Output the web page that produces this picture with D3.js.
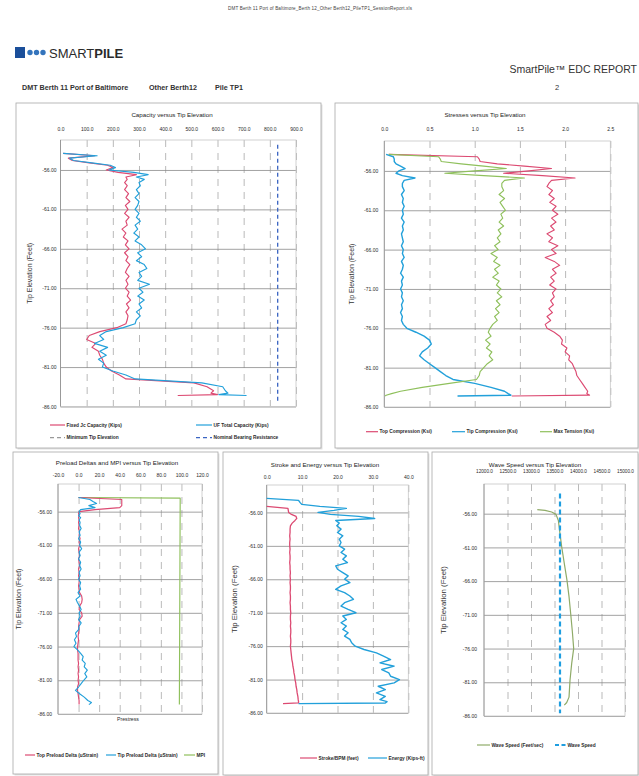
<!DOCTYPE html>
<html>
<head>
<meta charset="utf-8">
<script src="https://d3js.org/d3.v7.min.js"></script>
<style>
  body { margin: 0; background: #fff; }
  svg text { font-family: "Liberation Sans Narrow", "Liberation Sans", Arial, sans-serif; }
</style>
</head>
<body>
<svg id="page" width="639" height="776"></svg>
<script>
// ---- data (tip elevation in feet, shared by the dense traces) ----
const elev = [-53.9,-54.2,-54.5,-54.8,-55.1,-55.4,-55.7,-56.0,-56.3,-56.6,-56.9,-57.2,-57.6,
  -58.0,-58.5,-59.0,-59.5,-60.0,-60.5,-61.0,-61.5,-62.0,-62.5,
  -63.0,-63.5,-64.0,-64.5,-65.0,-65.5,-66.0,-66.5,-67.0,-67.5,
  -68.0,-68.5,-69.0,-69.5,-70.0,-70.5,-71.0,-71.5,-72.0,-72.5,
  -73.0,-73.5,-74.0,-74.5,-75.0,-75.5,-76.0,-76.5,-77.0,-77.5,
  -78.0,-78.5,-79.0,-79.5,-80.0,-80.5,-81.0,-81.5,-82.0,-82.5,
  -83.0,-83.5,-84.0,-84.3,-84.5,-84.6];

// capacity (kips)
const fixedCap = [10,130,30,45,110,180,200,175,220,290,250,255,245,
  255,245,260,250,265,248,258,245,262,250,
  255,235,250,240,258,248,262,245,258,250,
  265,255,248,262,250,258,248,262,255,268,
  252,262,250,258,255,250,215,150,110,100,
  135,120,145,150,160,165,175,195,225,250,
  510,560,585,575,600,448];
const totalCap = [10,140,35,50,120,190,210,185,280,335,290,320,300,
  305,290,300,285,300,295,285,300,290,305,
  285,295,280,300,285,310,325,295,310,290,
  320,330,300,310,295,340,300,315,295,320,
  300,310,290,305,290,285,240,175,150,165,
  130,180,150,175,145,165,160,200,250,285,
  540,620,630,640,605,711];
const nominalElev = [-52.8, -85.6];
const nominalCap = [830, 830];

// stresses (ksi)
const topComp = [0.05,1.03,1.05,1.06,1.25,1.55,1.85,1.60,1.32,1.75,2.11,1.85,1.82,
  1.80,1.86,1.82,1.88,1.83,1.90,1.86,1.92,1.85,1.90,
  1.84,1.88,1.80,1.86,1.82,1.92,1.85,1.90,1.78,1.88,
  1.94,1.86,1.90,1.84,1.88,1.83,1.90,1.86,1.88,1.84,
  1.87,1.82,1.86,1.80,1.84,1.78,1.80,1.88,1.94,1.97,
  1.96,2.02,2.00,2.05,2.04,2.08,2.10,2.12,2.13,2.16,
  2.19,2.22,2.25,2.24,2.27,1.41];
const tipComp = [0.02,0.10,0.11,0.11,0.13,0.18,0.23,0.16,0.13,0.20,0.34,0.22,0.20,
  0.20,0.22,0.19,0.21,0.20,0.22,0.20,0.21,0.19,0.22,
  0.20,0.21,0.19,0.20,0.21,0.19,0.21,0.20,0.22,0.19,
  0.21,0.20,0.18,0.21,0.19,0.20,0.18,0.20,0.19,0.21,
  0.19,0.20,0.18,0.20,0.19,0.21,0.25,0.35,0.44,0.50,
  0.52,0.48,0.42,0.39,0.44,0.50,0.56,0.62,0.68,0.76,
  1.00,1.18,1.33,1.37,1.40,0.81];
const maxTension = [0.05,0.60,0.62,0.63,0.85,1.10,1.35,1.00,0.67,1.10,1.55,1.33,1.30,
  1.30,1.32,1.27,1.33,1.28,1.31,1.34,1.29,1.31,1.27,
  1.32,1.26,1.29,1.25,1.28,1.22,1.26,1.18,1.25,1.21,
  1.28,1.22,1.26,1.20,1.27,1.24,1.29,1.25,1.30,1.24,
  1.28,1.23,1.27,1.22,1.25,1.20,1.17,1.15,1.18,1.12,
  1.17,1.13,1.19,1.16,1.20,1.14,1.10,1.06,1.05,1.02,
  0.72,0.42,0.18,0.08,0.02,0.01];

// preload deltas (ustrain) and MPI
const topPreload = [0,42,42,42,42,40,16,0.5,0,0.5,0,0.5,0,
  0.5,0,1,0.5,1.5,0.5,1,0,0.5,1,
  0,0.5,1,0,0.5,0,1,0.5,0,0.5,
  1,3,3.5,3,1,0.5,3,3.5,1,0.5,
  0,0.5,0,-0.5,0,-0.5,-1,-1,-0.5,-0.5,
  -0.5,0,-0.5,0,-0.5,0,-0.5,0,-1,-1,
  -0.5,0,0.5,0.5,0.5,0.5];
const tipPreload = [0,11,14,17.5,10,16,2,0.5,1.5,0,2,0.5,1.5,
  1,2.5,0.5,1.5,0,2,1,3,0.5,1.5,
  0,2,1,2.5,0.5,1.5,0,2,1,2,
  -0.5,1.5,-2.5,-1,1,2.5,0.5,1.5,0,2.5,
  0.5,0,-3,-2,-4,-2.5,-4.5,-1,2,4.5,
  3.5,6.5,5.5,8.5,6,8,5,2.5,0,-3,
  1,5.5,9,12.5,11,10];
const mpiElev = [-53.9, -54.0, -84.6];
const mpi = [0, 98.8, 98.0];

// stroke (feet) and energy (kips-ft)
const stroke = [null,null,null,null,0,6.0,6.1,6.2,7.0,8.3,8.5,8.0,7.2,
  6.7,6.6,6.6,6.5,6.6,6.5,6.5,6.6,6.5,6.6,
  6.6,6.5,6.6,6.6,6.7,6.6,6.7,6.6,6.7,6.7,
  6.6,6.7,6.7,6.6,6.7,6.7,6.8,6.7,6.7,6.8,
  6.7,6.8,6.8,6.7,6.8,6.8,6.7,6.8,6.9,7.0,
  7.1,7.3,7.4,7.6,7.7,7.9,8.0,8.2,8.3,8.5,
  8.6,8.8,8.9,9.0,9.0,4.6];
const energy = [0,9.0,9.4,9.9,15,22.5,19,14.5,18,26,30.5,19.5,20.5,
  19.8,21,20,21.5,20.5,21,20.5,22,21,22.5,
  21.5,22.8,19.5,20,21.5,23,22,23.5,21,19.5,
  22,23.5,24.5,22,21,23,25.2,21.5,22.5,21,
  22.5,21.5,23,22,23.5,24,25,27.5,31,33,
  35,32,36,32.5,34.5,35,37.5,36,31.5,33.5,
  31,33.5,32,34,33.5,9.0];

// wave speed (feet/sec)
const waveElev = [-55.4,-55.5,-55.75,-56.1,-57.0,-59.0,-60.9,-63.4,-65.9,-68.3,-70.8,-73.5,-76.0,-78.2,-80.7,-83.2,-84.0,-84.4];
const waveSpeed = [13134,13298,13440,13532,13582,13617,13653,13709,13766,13809,13844,13880,13908,13866,13830,13809,13760,13709];
const waveRefElev = [-53.0, -85.6];
const waveRef = [13617, 13617];

// tick values
const elevTicks = [-56, -61, -66, -71, -76, -81, -86];
const capTicks = [0, 100, 200, 300, 400, 500, 600, 700, 800, 900];
const stressTicks = [0, 0.5, 1, 1.5, 2, 2.5];
const preloadTicks = [-20, 0, 20, 40, 60, 80, 100, 120];
const strokeTicks = [0, 10, 20, 30, 40];
const waveTicks = [12000, 12500, 13000, 13500, 14000, 14500, 15000];

const RED = "#dc4a72", BLUE = "#22a0da", GREEN = "#8fc05c";
const svg = d3.select("#page");

// ---- page header ----
svg.append("text").attr("x", 320).attr("y", 10).attr("text-anchor", "middle")
  .attr("font-size", 4.6).attr("fill", "#444").attr("textLength", 184)
  .text("DMT Berth 11 Port of Baltimore_Berth 12_Other Berth12_PileTP1_SessionReport.xls");

svg.append("rect").attr("x", 15).attr("y", 47).attr("width", 10).attr("height", 11).attr("fill", "#1b4f9a");
[30, 36.5, 43].forEach(function(cx) {
  svg.append("circle").attr("cx", cx).attr("cy", 52.5).attr("r", 2.7).attr("fill", "#3474bc");
});
const logo = svg.append("text").attr("x", 49).attr("y", 58).attr("font-size", 13).attr("fill", "#2a2a2a")
  .style("font-family", "'Liberation Sans', Arial, sans-serif");
logo.append("tspan").text("SMART");
logo.append("tspan").attr("font-weight", "bold").text("PILE");

svg.append("text").attr("x", 637).attr("y", 73).attr("text-anchor", "end").attr("font-size", 10.5)
  .attr("fill", "#333").style("font-family", "'Liberation Sans', Arial, sans-serif")
  .text("SmartPile\u2122 EDC REPORT");

[["DMT Berth 11 Port of Baltimore", 22], ["Other Berth12", 149], ["Pile TP1", 215]].forEach(function(t) {
  svg.append("text").attr("x", t[1]).attr("y", 90).attr("font-size", 7.2).attr("font-weight", "bold")
    .attr("fill", "#333").style("font-family", "'Liberation Sans', Arial, sans-serif").text(t[0]);
});
svg.append("text").attr("x", 555).attr("y", 90).attr("font-size", 7.5).attr("fill", "#333").text("2");

// ---- one chart panel ----
function drawPanel(p) {
  const g = svg.append("g");
  const bw = p.box[2] - p.box[0], bh = p.box[3] - p.box[1];
  g.append("rect").attr("x", p.box[0] + 1.5).attr("y", p.box[1] + 1.5)
    .attr("width", bw).attr("height", bh).attr("fill", "#e2e2e2");
  g.append("rect").attr("x", p.box[0]).attr("y", p.box[1]).attr("width", bw).attr("height", bh)
    .attr("fill", "#fff").attr("stroke", "#a9a9a9").attr("stroke-width", 0.8);

  const x = d3.scaleLinear().domain(p.xDomain).range(p.xRange);
  const y = d3.scaleLinear().domain(p.yDomain).range(p.yRange);
  const w = p.xRange[1] - p.xRange[0], h = p.yRange[1] - p.yRange[0];

  g.append("text").attr("x", p.titleX).attr("y", p.titleY).attr("text-anchor", "middle")
    .attr("font-size", 6.2).attr("fill", "#222").text(p.title);

  // dashed vertical gridlines
  g.append("g").attr("transform", "translate(0," + p.yRange[0] + ")")
    .call(d3.axisTop(x).tickValues(p.xTicks.slice(1)).tickSize(-h).tickFormat(""))
    .call(a => a.select(".domain").remove())
    .call(a => a.selectAll(".tick line").attr("stroke", "#9c9c9c").attr("stroke-width", 0.7)
      .attr("stroke-dasharray", "7,6"));

  // horizontal gridlines and elevation labels
  g.append("g").attr("transform", "translate(" + p.xRange[0] + ",0)")
    .call(d3.axisLeft(y).tickValues(elevTicks).tickSize(-w).tickPadding(p.yPad)
      .tickFormat(d => d.toFixed(2)))
    .attr("font-size", 5).attr("color", "#2a2a2a")
    .call(a => a.select(".domain").remove())
    .call(a => a.selectAll(".tick line").attr("stroke", "#8a8a8a").attr("stroke-width", 0.8));

  // top value labels
  g.append("g").attr("transform", "translate(0," + p.yRange[0] + ")")
    .call(d3.axisTop(x).tickValues(p.xTicks).tickSize(0).tickPadding(p.xPad)
      .tickFormat(d => d.toFixed(1)))
    .attr("font-size", p.xFont || 5).attr("color", "#2a2a2a")
    .call(a => a.select(".domain").remove());

  g.append("rect").attr("x", p.xRange[0]).attr("y", p.yRange[0]).attr("width", w).attr("height", h)
    .attr("fill", "none").attr("stroke", "#c6c6c6").attr("stroke-width", 0.8);
  g.append("line").attr("x1", p.xRange[0]).attr("x2", p.xRange[0])
    .attr("y1", p.yRange[0]).attr("y2", p.yRange[1]).attr("stroke", "#8a8a8a").attr("stroke-width", 0.8);

  g.append("text").attr("transform", "translate(" + p.yTitleX + "," + (p.yRange[0] + h / 2) + ") rotate(-90)")
    .attr("text-anchor", "middle").attr("font-size", p.yTitleFont || 7).attr("fill", "#333")
    .style("font-family", "'Liberation Sans', Arial, sans-serif").text("Tip Elevation (Feet)");

  const line = d3.line().defined(d => d[1] != null).x(d => x(d[1])).y(d => y(d[0]));
  p.series.forEach(function(s) {
    g.append("path").datum(d3.zip(s.elev, s.values)).attr("d", line)
      .attr("fill", "none").attr("stroke", s.color).attr("stroke-width", s.width || 1.15)
      .attr("stroke-dasharray", s.dash || null).attr("stroke-linejoin", "round");
  });

  p.legend.forEach(function(l) {
    g.append("line").attr("x1", l.x).attr("x2", l.x + l.len).attr("y1", l.y).attr("y2", l.y)
      .attr("stroke", l.color).attr("stroke-width", l.width || 1.2).attr("stroke-dasharray", l.dash || null);
    g.append("text").attr("x", l.x + l.len + 1.5).attr("y", l.y + 1.7).attr("font-size", 4.8)
      .attr("font-weight", "bold").attr("fill", "#2a2a2a").text(l.text);
  });
  return g;
}

drawPanel({
  box: [16, 103, 321, 448], title: "Capacity versus Tip Elevation", titleX: 172, titleY: 117,
  xDomain: [0, 900], xRange: [60.5, 296], yDomain: [-52.2, -86], yRange: [140, 406.5],
  xTicks: capTicks, xPad: 9, yPad: 4, yTitleX: 32,
  series: [
    { elev: elev, values: fixedCap, color: RED },
    { elev: elev, values: totalCap, color: BLUE },
    { elev: nominalElev, values: nominalCap, color: "#3a64c2", dash: "4,3", width: 1.3 }
  ],
  legend: [
    { x: 50, y: 425, len: 15, text: "Fixed Jc Capacity (Kips)", color: RED },
    { x: 196, y: 425, len: 16, text: "UF Total Capacity (Kips)", color: BLUE },
    { x: 50, y: 437.7, len: 15, text: "Minimum Tip Elevation", color: "#999", dash: "4,3" },
    { x: 196, y: 437.7, len: 16, text: "Nominal Bearing Resistance", color: "#3a64c2", dash: "4,3" }
  ]
});

drawPanel({
  box: [335, 103, 638, 448], title: "Stresses versus Tip Elevation", titleX: 485, titleY: 117,
  xDomain: [0, 2.5], xRange: [384.3, 610.3], yDomain: [-52.2, -86], yRange: [141, 407],
  xTicks: stressTicks, xPad: 10, yPad: 6, yTitleX: 354,
  series: [
    { elev: elev, values: topComp, color: RED },
    { elev: elev, values: tipComp, color: BLUE, width: 1.4 },
    { elev: elev, values: maxTension, color: GREEN }
  ],
  legend: [
    { x: 366, y: 431.7, len: 12, text: "Top Compression (Ksi)", color: RED },
    { x: 452, y: 431.7, len: 13, text: "Tip Compression (Ksi)", color: BLUE },
    { x: 540, y: 431.7, len: 12, text: "Max Tension (Ksi)", color: GREEN }
  ]
});

const p3 = drawPanel({
  box: [13, 452, 218, 774], title: "Preload Deltas and MPI  versus Tip Elevation", titleX: 117, titleY: 465,
  xDomain: [-20, 120], xRange: [58, 202], yDomain: [-51.9, -86], yRange: [484, 714],
  xTicks: preloadTicks, xPad: 7, yPad: 6, yTitleX: 21,
  series: [
    { elev: mpiElev, values: mpi, color: GREEN },
    { elev: elev, values: topPreload, color: RED },
    { elev: elev, values: tipPreload, color: BLUE }
  ],
  legend: [
    { x: 25, y: 755, len: 10, text: "Top Preload Delta (uStrain)", color: RED },
    { x: 106, y: 755, len: 10, text: "Tip Preload Delta (uStrain)", color: BLUE },
    { x: 184, y: 755, len: 11, text: "MPI", color: GREEN }
  ]
});
p3.append("text").attr("x", 128).attr("y", 721).attr("text-anchor", "middle")
  .attr("font-size", 5.2).attr("fill", "#2a2a2a").text("Prestress");

drawPanel({
  box: [223, 452, 428, 775], title: "Stroke and Energy versus Tip Elevation", titleX: 325, titleY: 467,
  xDomain: [0, 40], xRange: [266.7, 408.3], yDomain: [-51.9, -86], yRange: [485, 713],
  xTicks: strokeTicks, xPad: 6, yPad: 4, yTitleX: 237, yTitleFont: 7.8,
  series: [
    { elev: elev, values: stroke, color: RED, width: 1.3 },
    { elev: elev, values: energy, color: BLUE, width: 1.4 }
  ],
  legend: [
    { x: 300, y: 758, len: 17, text: "Stroke/BPM (feet)", color: RED },
    { x: 368, y: 758, len: 19, text: "Energy (Kips-ft)", color: BLUE }
  ]
});

drawPanel({
  box: [432, 452, 638, 775], title: "Wave Speed versus Tip Elevation", titleX: 535, titleY: 467,
  xDomain: [12000, 15000], xRange: [484, 625], yDomain: [-51.6, -86], yRange: [484, 716],
  xTicks: waveTicks, xPad: 11, yPad: 7, yTitleX: 446, yTitleFont: 7.8, xFont: 4.7,
  series: [
    { elev: waveElev, values: waveSpeed, color: "#8fab68", width: 1.2 },
    { elev: waveRefElev, values: waveRef, color: "#1f9ee0", dash: "5,3", width: 2.2 }
  ],
  legend: [
    { x: 477, y: 745, len: 13, text: "Wave Speed (Feet/sec)", color: "#8fab68" },
    { x: 555, y: 745, len: 11, text: "Wave Speed", color: "#1f9ee0", dash: "4,2.5", width: 2 }
  ]
});
</script>
</body>
</html>
